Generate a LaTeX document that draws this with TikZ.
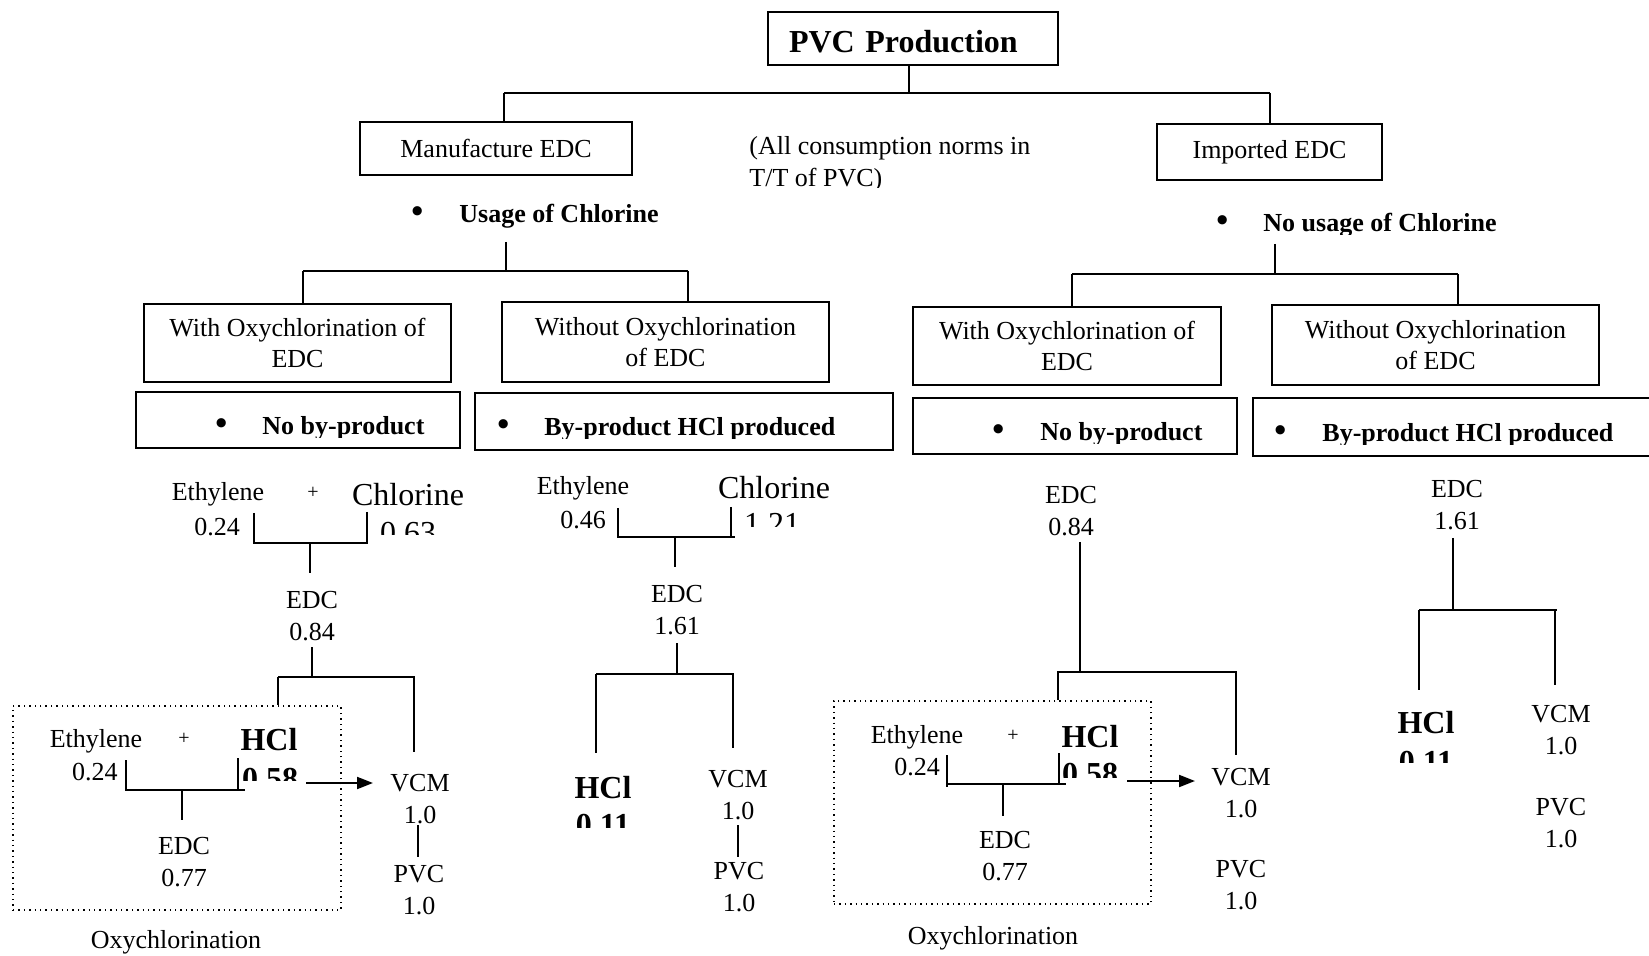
\documentclass[tikz,border=0pt]{standalone}
\usepackage{fontspec}
\setmainfont{Liberation Serif}
\usetikzlibrary{arrows.meta}
\newcommand{\bigbullet}{{\fontsize{17}{17}\selectfont\textbullet}}
\begin{document}
\begin{tikzpicture}[x=0.5pt,y=-0.5pt,
 txt/.style={inner sep=0pt, align=center, font=\fontsize{13}{16}\selectfont},
 big/.style={inner sep=0pt, font=\fontsize{16}{19}\selectfont},
 bigb/.style={inner sep=0pt, font=\fontsize{16}{19}\selectfont\bfseries},
 plus/.style={inner sep=0pt, font=\fontsize{10}{12}\selectfont},
 bx/.style={draw, line width=1pt, inner sep=0pt, align=center, font=\fontsize{13}{15.5}\selectfont},
 con/.style={line width=1pt},
 thinline/.style={line width=0.6pt},
 oxy/.style={draw, dotted, line width=0.7pt, inner sep=0pt},
 arr/.style={line width=1pt, -{Triangle[length=8pt,width=6pt]}},
 bul/.style={inner sep=0pt, anchor=base west, font=\fontsize{13}{16}\selectfont\bfseries}
]
\useasboundingbox (0,0) rectangle (1649,956);
\fill[white] (0,0) rectangle (1649,956);

% ---------- top level ----------
\node[bx, minimum width=145pt, minimum height=26.5pt, text width=124pt, inner xsep=10.5pt, align=left,
      text height=14.5pt, text depth=0pt,
      font=\fontsize{16}{19}\selectfont\bfseries] (title) at (913,38.5) {PVC Production};
\node[bx, minimum width=136pt, minimum height=26.5pt] (mfg) at (496,148.5) {Manufacture EDC};
\node[bx, minimum width=112.5pt, minimum height=28pt] (imp) at (1269.5,152) {Imported EDC};
\begin{scope}
\clip (740,125) rectangle (1060,188);
\node[txt, align=left, anchor=base west] (norms) at (749,187) {(All consumption norms in\\T/T of PVC)};
\end{scope}

\coordinate (t0) at (909,65); \coordinate (t1) at (909,93);
\coordinate (tL) at (504,93); \coordinate (tR) at (1270,93);
\draw[thinline] (t0) -- (t1);
\draw[con] (tL) -- (tR);
\draw[con] (tL) -- (tL |- mfg.north);
\draw[con] (tR) -- (tR |- imp.north);

% ---------- usage bullets ----------
\node[bul] (usage) at (411,223) {\makebox[24pt][l]{\bigbullet}Usage of Chlorine};
\begin{scope}
\clip (1200,200) rectangle (1560,235);
\node[bul] (nousage) at (1216,232) {\makebox[23.5pt][l]{\bigbullet}No usage of Chlorine};
\end{scope}

\coordinate (u0) at (506,242); \coordinate (u1) at (506,271);
\coordinate (uL) at (303,271); \coordinate (uR) at (688,271);
\coordinate (v0) at (1275,244); \coordinate (v1) at (1275,274);
\coordinate (vL) at (1072,274); \coordinate (vR) at (1458,274);

% ---------- process boxes ----------
\node[bx, minimum width=153.5pt, minimum height=39pt] (lwith) at (297.5,343) {With Oxychlorination of\\EDC};
\node[bx, minimum width=163.5pt, minimum height=40pt] (lwo) at (665.5,342) {Without Oxychlorination\\of EDC};
\node[bx, minimum width=154pt, minimum height=39pt] (rwith) at (1067,346) {With Oxychlorination of\\EDC};
\node[bx, minimum width=163.5pt, minimum height=40pt] (rwo) at (1435.5,345) {Without Oxychlorination\\of EDC};

\draw[con] (u0) -- (u1);
\draw[con] (uL) -- (uR);
\draw[con] (uL) -- (uL |- lwith.north);
\draw[con] (uR) -- (uR |- lwo.north);
\draw[con] (v0) -- (v1);
\draw[con] (vL) -- (vR);
\draw[con] (vL) -- (vL |- rwith.north);
\draw[con] (vR) -- (vR |- rwo.north);

% ---------- by-product boxes ----------
\node[bx, minimum width=162pt, minimum height=28pt] (lnoby) at (298,420) {};
\node[bx, minimum width=209pt, minimum height=28.5pt] (lby) at (684,421.5) {};
\node[bx, minimum width=162pt, minimum height=28pt] (rnoby) at (1075,426) {};
\node[bx, minimum width=208.5pt, minimum height=29pt] (rby) at (1461.5,427) {};
\begin{scope}
\clip (140,400) rectangle (455,438);
\node[bul] (lnobyt) at (215,435) {\makebox[23.5pt][l]{\bigbullet}No by-product};
\end{scope}
\begin{scope}
\clip (480,400) rectangle (888,439);
\node[bul] (lbyt) at (497,436) {\makebox[23.5pt][l]{\bigbullet}By-product HCl produced};
\end{scope}
\begin{scope}
\clip (918,405) rectangle (1232,444);
\node[bul] (rnobyt) at (992,441) {\makebox[24pt][l]{\bigbullet}No by-product};
\end{scope}
\begin{scope}
\clip (1258,405) rectangle (1649,445);
\node[bul] (rbyt) at (1274,442) {\makebox[24pt][l]{\bigbullet}By-product HCl produced};
\end{scope}

% ---------- tree 1 ----------
\node[txt] (eth1) at (218,494) {Ethylene};
\node[plus] (pl1) at (313,493) {+};
\node[big] (chl1) at (408,495) {Chlorine};
\node[txt] (n024a) at (217,527) {0.24};
\begin{scope}
\clip (370,505) rectangle (450,535);
\node[big, anchor=base] (n063) at (408,544) {0.63};
\end{scope}
\coordinate (b1t) at (254,513); \coordinate (b1l) at (254,543);
\coordinate (b1r) at (368,543); \coordinate (b1rt) at (367,512);
\coordinate (b1m) at (310,543); \coordinate (b1d) at (310,573);
\draw[con] (b1t) -- (b1l) -- (b1r);
\draw[con] (b1rt) -- (b1rt |- b1r);
\draw[con] (b1m) -- (b1d);
\node[txt] (edc1) at (312,616) {EDC\\0.84};
\coordinate (c1t) at (312,647); \coordinate (c1) at (312,677);
\coordinate (c1l) at (278,677); \coordinate (c1r) at (415,677);
\coordinate (c1rd) at (414,752);
\node[oxy, minimum width=164pt, minimum height=102pt] (ox1) at (177,808) {};
\draw[con] (c1t) -- (c1);
\draw[con] (c1l) -- (c1r);
\draw[con] (c1l) -- (c1l |- ox1.north);
\draw[con] (c1rd |- c1r) -- (c1rd);
\node[txt] (eth2) at (96,741) {Ethylene};
\node[plus] (pl2) at (184,739) {+};
\node[bigb] (hcl1) at (269,740) {HCl};
\node[txt] (n024b) at (95,772) {0.24};
\begin{scope}
\clip (235,760) rectangle (305,780);
\node[bigb, anchor=base] (n058a) at (270,789) {0.58};
\end{scope}
\coordinate (d1t) at (126,760); \coordinate (d1l) at (126,791);
\coordinate (d1r) at (245,790); \coordinate (d1rt) at (238,758);
\coordinate (d1m) at (182,790); \coordinate (d1d) at (182,820);
\draw[con] (d1t) -- (d1l);
\draw[con] (d1t |- d1r) -- (d1r);
\draw[con] (d1rt) -- (d1rt |- d1r);
\draw[con] (d1m) -- (d1d);
\node[txt] (edc2) at (184,862) {EDC\\0.77};
\node[txt] (vcm1) at (420,799) {VCM\\1.0};
\coordinate (ar1s) at (306,783); \coordinate (ar1e) at (373,783);
\draw[arr] (ar1s) -- (ar1e);
\node[txt] (pvc1) at (419,890) {PVC\\1.0};
\coordinate (e1t) at (418,825); \coordinate (e1b) at (418,857);
\draw[con] (e1t) -- (e1b);
\node[txt] (oxl1) at (176,942) {Oxychlorination};

% ---------- tree 2 ----------
\node[txt] (eth3) at (583,488) {Ethylene};
\node[big] (chl2) at (774,488) {Chlorine};
\node[txt] (n046) at (583,520) {0.46};
\begin{scope}
\clip (740,500) rectangle (810,527);
\node[big, anchor=base] (n121) at (772,535) {1.21};
\end{scope}
\coordinate (b2t) at (618,508); \coordinate (b2l) at (618,537);
\coordinate (b2r) at (735,537); \coordinate (b2rt) at (731,507);
\coordinate (b2m) at (675,537); \coordinate (b2d) at (675,567);
\draw[con] (b2t) -- (b2l) -- (b2r);
\draw[con] (b2rt) -- (b2rt |- b2r);
\draw[con] (b2m) -- (b2d);
\node[txt] (edc3) at (677,610) {EDC\\1.61};
\coordinate (c2t) at (677,643); \coordinate (c2) at (677,674);
\coordinate (c2l) at (596,674); \coordinate (c2r) at (734,674);
\coordinate (c2ld) at (596,753); \coordinate (c2rd) at (733,748);
\draw[con] (c2t) -- (c2);
\draw[con] (c2l) -- (c2r);
\draw[con] (c2l) -- (c2ld);
\draw[con] (c2rd |- c2r) -- (c2rd);
\node[bigb] (hcl2) at (603,788) {HCl};
\begin{scope}
\clip (570,805) rectangle (640,827);
\node[bigb, anchor=base] (n011a) at (603,835) {0.11};
\end{scope}
\node[txt] (vcm2) at (738,795) {VCM\\1.0};
\coordinate (e2t) at (738,825); \coordinate (e2b) at (738,857);
\draw[con] (e2t) -- (e2b);
\node[txt] (pvc2) at (739,887) {PVC\\1.0};

% ---------- tree 3 ----------
\node[txt] (edc4) at (1071,511) {EDC\\0.84};
\coordinate (c3t) at (1080,542); \coordinate (c3) at (1080,672);
\coordinate (c3l) at (1057,672); \coordinate (c3r) at (1237,672);
\coordinate (c3ld) at (1058,700); \coordinate (c3rd) at (1236,755);
\node[oxy, minimum width=158.5pt, minimum height=101.5pt] (ox2) at (992.5,802.5) {};
\draw[con] (c3t) -- (c3);
\draw[con] (c3l) -- (c3r);
\draw[con] (c3ld |- c3l) -- (c3ld |- ox2.north);
\draw[con] (c3rd |- c3r) -- (c3rd);
\node[txt] (eth4) at (917,737) {Ethylene};
\node[plus] (pl3) at (1013,736) {+};
\node[bigb] (hcl3) at (1090,737) {HCl};
\node[txt] (n024c) at (917,767) {0.24};
\begin{scope}
\clip (1055,755) rectangle (1125,777);
\node[bigb, anchor=base] (n058b) at (1090,784) {0.58};
\end{scope}
\coordinate (d3t) at (947,755); \coordinate (d3l) at (947,787);
\coordinate (d3r) at (1066,784); \coordinate (d3rt) at (1059,753);
\coordinate (d3m) at (1003,784); \coordinate (d3d) at (1003,816);
\draw[con] (d3t) -- (d3l);
\draw[con] (d3t |- d3r) -- (d3r);
\draw[con] (d3rt) -- (d3rt |- d3r);
\draw[con] (d3m) -- (d3d);
\node[txt] (edc5) at (1005,856) {EDC\\0.77};
\coordinate (ar2s) at (1127,781); \coordinate (ar2e) at (1195,781);
\draw[arr] (ar2s) -- (ar2e);
\node[txt] (vcm3) at (1241,793.5) {VCM\\1.0};
\node[txt] (pvc3) at (1241,885) {PVC\\1.0};
\node[txt] (oxl2) at (993,938) {Oxychlorination};

% ---------- tree 4 ----------
\node[txt] (edc6) at (1457,505) {EDC\\1.61};
\coordinate (c4t) at (1453,538); \coordinate (c4) at (1453,610);
\coordinate (c4l) at (1419,610); \coordinate (c4r) at (1557,610);
\coordinate (c4ld) at (1419,690); \coordinate (c4rd) at (1555,685);
\draw[con] (c4t) -- (c4);
\draw[con] (c4l) -- (c4r);
\draw[con] (c4l) -- (c4ld);
\draw[con] (c4rd |- c4r) -- (c4rd);
\node[bigb] (hcl4) at (1426,723) {HCl};
\begin{scope}
\clip (1395,740) rectangle (1460,762);
\node[bigb, anchor=base] (n011b) at (1426,772) {0.11};
\end{scope}
\node[txt] (vcm4) at (1561,730) {VCM\\1.0};
\node[txt] (pvc4) at (1561,823) {PVC\\1.0};
\end{tikzpicture}
\end{document}
